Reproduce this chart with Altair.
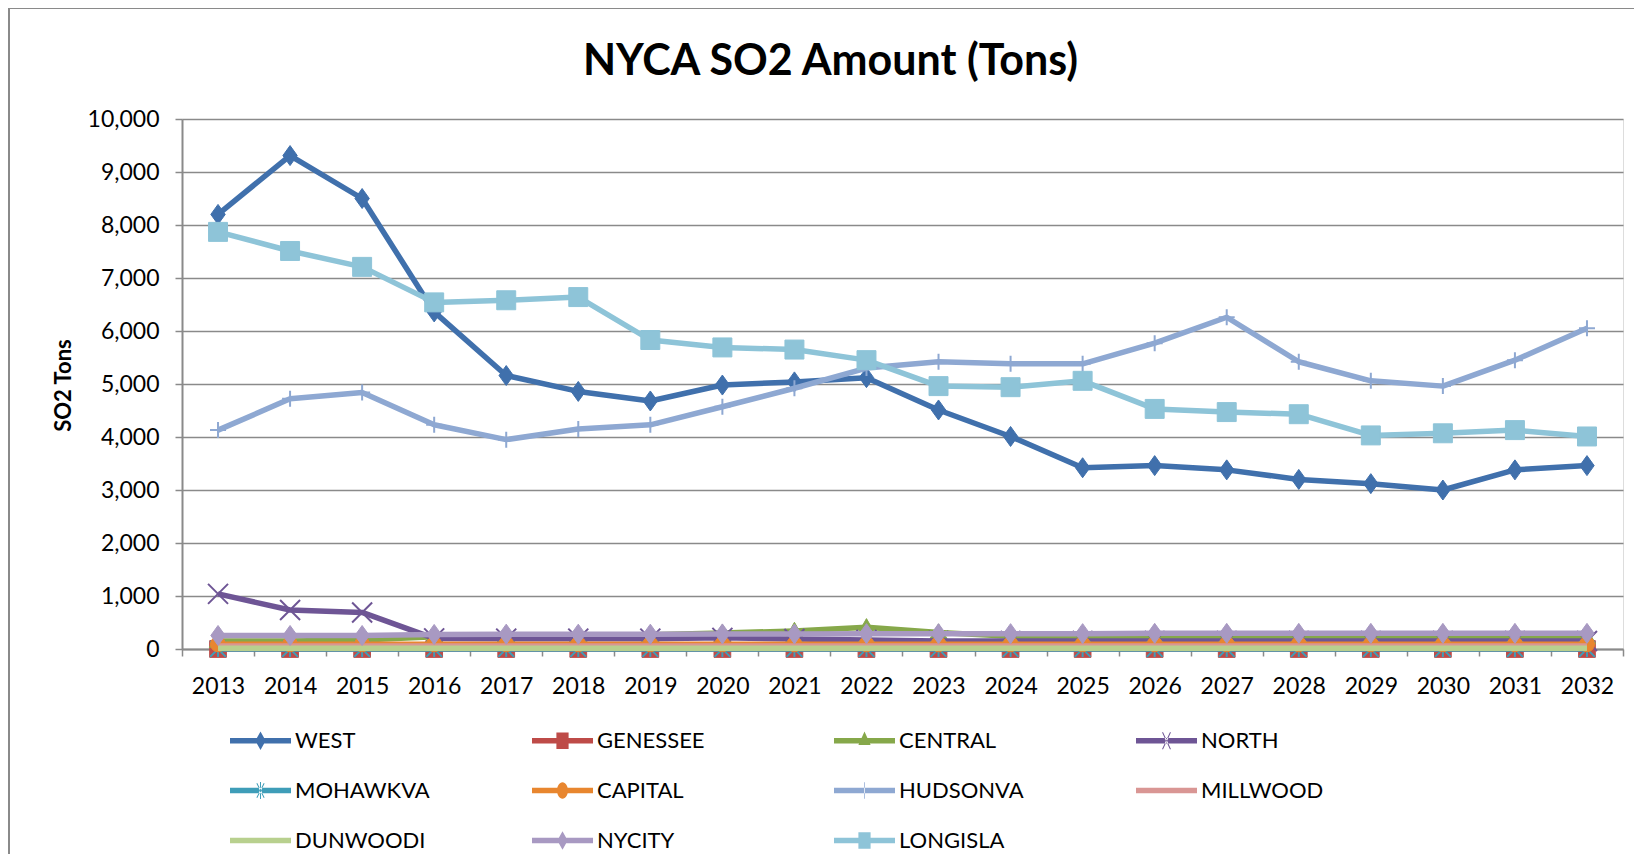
import altair as alt
import pandas as pd

YEARS = list(range(2013, 2033))
SERIES = ["WEST", "GENESSEE", "CENTRAL", "NORTH", "MOHAWKVA", "CAPITAL",
          "HUDSONVA", "MILLWOOD", "DUNWOODI", "NYCITY", "LONGISLA"]
COLORS = ["#4070AC", "#BE4B48", "#86A84A", "#6E5595", "#3E9DB8", "#E8862F",
          "#8EA8D2", "#D99694", "#B8D08E", "#A899C2", "#8EC4D8"]

WEST = [8200, 9310, 8500, 6360, 5160, 4860, 4680, 4980, 5040, 5120,
        4510, 4010, 3420, 3460, 3380, 3200, 3120, 3000, 3380, 3460]
GENESSEE = [0] * 20
CENTRAL = [150, 150, 170, 230, 250, 260, 270, 300, 340, 410,
           310, 240, 230, 230, 230, 220, 210, 200, 210, 220]
NORTH = [1040, 735, 690, 200, 195, 195, 195, 210, 190, 170,
         150, 150, 150, 150, 150, 150, 150, 150, 150, 150]
MOHAWKVA = [0] * 20
CAPITAL = [90] * 20
HUDSONVA = [4130, 4720, 4840, 4230, 3950, 4150, 4230, 4570, 4920, 5300,
            5420, 5380, 5380, 5770, 6260, 5420, 5060, 4960, 5450, 6050]
MILLWOOD = [55] * 20
DUNWOODI = [15] * 20
NYCITY = [255, 255, 255, 275, 280, 280, 280, 285, 285, 290,
          290, 290, 290, 295, 295, 295, 295, 295, 295, 295]
LONGISLA = [7870, 7510, 7210, 6540, 6580, 6640, 5830, 5690, 5650, 5450,
            4960, 4940, 5060, 4530, 4470, 4430, 4030, 4070, 4130, 4010]

VALUES = [WEST, GENESSEE, CENTRAL, NORTH, MOHAWKVA, CAPITAL,
          HUDSONVA, MILLWOOD, DUNWOODI, NYCITY, LONGISLA]

rows = []
for s, vals in zip(SERIES, VALUES):
    for y, v in zip(YEARS, vals):
        rows.append({"year": y, "series": s, "value": v})
df = pd.DataFrame(rows)

# marker shapes (unit box paths)
DIAMOND = "M0,-1L0.72,0L0,1L-0.72,0Z"
SQUARE = "M-1,-1H1V1H-1Z"
TRIANGLE = "M0,-1L1,0.75H-1Z"
XMARK = "M-1,-1L1,1M-1,1L1,-1"
STAR = "M-1,-1L1,1M-1,1L1,-1M0,-1V1"
PLUS = "M-1,0H1M0,-1V1"

MARKERS = {
    "WEST": (DIAMOND, 400, True),
    "GENESSEE": (SQUARE, 280, True),
    "CENTRAL": (TRIANGLE, 300, True),
    "NORTH": (XMARK, 400, False),
    "MOHAWKVA": (STAR, 250, False),
    "CAPITAL": ("circle", 230, True),
    "HUDSONVA": (PLUS, 256, False),
    "MILLWOOD": None,
    "DUNWOODI": None,
    "NYCITY": (DIAMOND, 400, True),
    "LONGISLA": (SQUARE, 360, True),
}


def seg(x1, y1, x2, y2, t=0.016):
    """thin filled quad along a segment (legend glyph helper)"""
    dx, dy = x2 - x1, y2 - y1
    n = (dx * dx + dy * dy) ** 0.5
    ox, oy = -dy / n * t, dx / n * t
    return (f"M{x1+ox:.4f},{y1+oy:.4f}L{x2+ox:.4f},{y2+oy:.4f}"
            f"L{x2-ox:.4f},{y2-oy:.4f}L{x1-ox:.4f},{y1-oy:.4f}Z")


BAR = "M-1,-0.09H1V0.09H-1Z"
LEG_DIAMOND = "M0,-0.3L0.17,0L0,0.3L-0.17,0Z"
LEGEND_PATHS = [
    BAR + LEG_DIAMOND,
    BAR + "M-0.2,-0.27H0.2V0.27H-0.2Z",
    BAR + "M0,-0.3L0.2,0.14H-0.2Z",
    BAR + seg(-0.13, -0.28, 0.13, 0.28) + seg(-0.13, 0.28, 0.13, -0.28),
    BAR + seg(-0.12, -0.24, 0.12, 0.24) + seg(-0.12, 0.24, 0.12, -0.24) + seg(0, -0.28, 0, 0.28),
    BAR + "M-0.18,0A0.18,0.27 0 1 1 0.18,0A0.18,0.27 0 1 1 -0.18,0Z",
    BAR + seg(0, -0.27, 0, 0.27, 0.012),
    BAR,
    BAR,
    BAR + LEG_DIAMOND,
    BAR + "M-0.2,-0.27H0.2V0.27H-0.2Z",
]

GRID = "#8A8A8A"
FONT = "Lato"

x_enc = alt.X(
    "year:O",
    scale=alt.Scale(type="band", paddingInner=0, paddingOuter=0),
    bandPosition=0.5,
    axis=alt.Axis(
        title=None, labelAngle=0, tickBand="extent", grid=False,
        labelFont=FONT, labelFontSize=23, labelColor="#000000",
        labelPadding=19, tickSize=7, tickColor=GRID, tickWidth=1.5,
        domainColor=GRID, domainWidth=2,
    ),
)
y_enc = alt.Y(
    "value:Q",
    scale=alt.Scale(domain=[0, 10000], nice=False),
    axis=alt.Axis(
        title="SO2 Tons", values=list(range(0, 10001, 1000)), format=",.0f",
        labelFont=FONT, labelFontSize=23, labelColor="#000000",
        labelPadding=16, tickSize=7, tickColor=GRID, tickWidth=1.5,
        domainColor=GRID, domainWidth=2,
        grid=True, gridColor=GRID, gridWidth=1.5,
        titleFont=FONT, titleFontSize=22, titleFontWeight="bold",
        titleColor="#000000", titleX=-119, titleY=266,
        titleAngle=270, titleAlign="center", titleBaseline="middle",
    ),
)

layers = []
base = alt.Chart(df)
for s, col in zip(SERIES, COLORS):
    sub = base.transform_filter(alt.datum.series == s)
    layers.append(
        sub.mark_line(color=col, strokeWidth=5.5, strokeJoin="round",
                      strokeCap="butt").encode(x=x_enc, y=y_enc)
    )
    m = MARKERS[s]
    if m is not None:
        shape, size, filled = m
        if filled:
            pt = sub.mark_point(shape=shape, size=size, filled=True, fill=col,
                                stroke=col, strokeWidth=1, opacity=1)
        else:
            pt = sub.mark_point(shape=shape, size=size, filled=False,
                                stroke=col, strokeWidth=2, opacity=1)
        layers.append(pt.encode(x=x_enc, y=y_enc))

LEG = dict(title=None, orient="none", legendX=48, legendY=591,
           direction="horizontal", columns=4, gridAlign="all",
           columnPadding=102, rowPadding=8, symbolSize=3721, symbolOpacity=1,
           symbolStrokeWidth=0,
           labelFont=FONT, labelFontSize=22, labelColor="#000000",
           labelOffset=4, labelLimit=400)

legend_layer = base.transform_filter("false").mark_point(
    filled=True, size=3721, opacity=1
).encode(
    x=x_enc, y=y_enc,
    color=alt.Color("series:N", scale=alt.Scale(domain=SERIES, range=COLORS),
                    legend=alt.Legend(**LEG)),
    shape=alt.Shape("series:N", scale=alt.Scale(domain=SERIES, range=LEGEND_PATHS),
                    legend=alt.Legend(**LEG)),
)
layers.append(legend_layer)

# chart-area frame (top and left edges, as in the reference)
frame_df = pd.DataFrame({"k": [0]})
frame_left = alt.Chart(frame_df).mark_rule(color="#8A8A8A", strokeWidth=2).encode(
    x=alt.value(-173), y=alt.value(-111), y2=alt.value(745))
frame_top = alt.Chart(frame_df).mark_rule(color="#8A8A8A", strokeWidth=2).encode(
    x=alt.value(-173), x2=alt.value(1452), y=alt.value(-111))
layers += [frame_left, frame_top]

chart = alt.layer(*layers).properties(
    width=1441, height=530,
    title=alt.TitleParams("NYCA SO2 Amount (Tons)", font=FONT, fontSize=43,
                          fontWeight="bold", color="#000000", anchor="middle",
                          dx=-72, offset=-77),
    padding={"left": 174, "top": 111, "right": 11, "bottom": 205},
    autosize=alt.AutoSizeParams(type="none"),
).configure_view(stroke=None).configure(background="white")

chart.save("out.html", embed_options={"renderer": "svg", "actions": False})
